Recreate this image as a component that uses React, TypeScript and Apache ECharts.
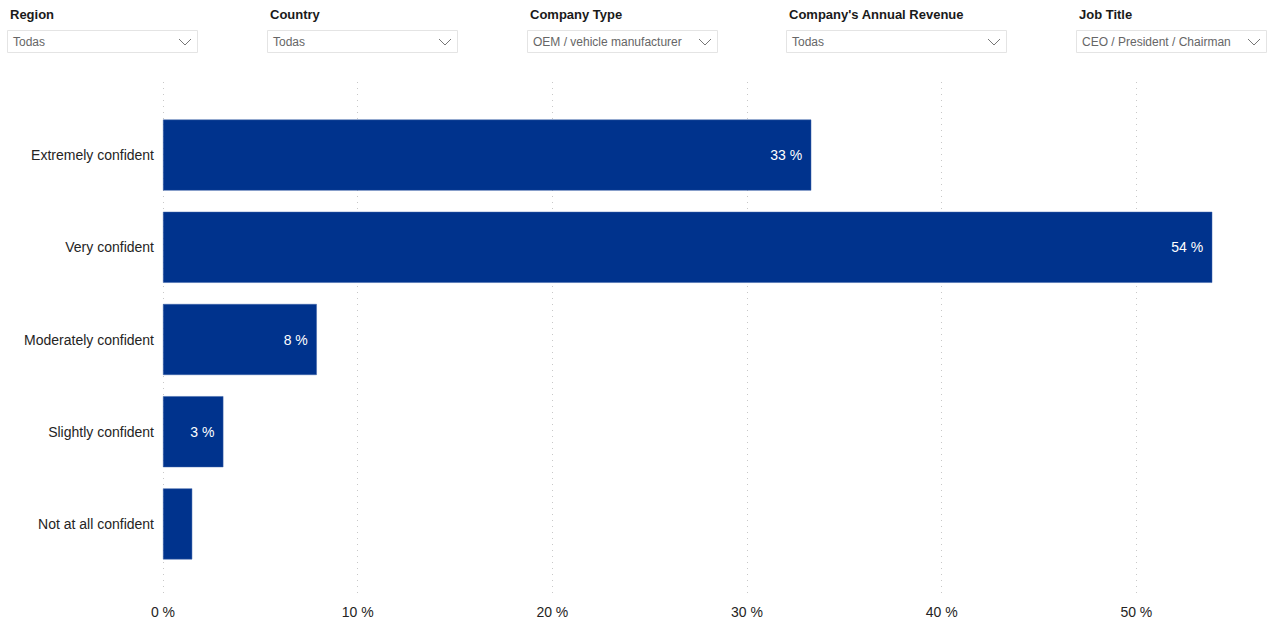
import React, { useEffect, useRef } from "react";
import * as echarts from "echarts";

const categories = [
  "Extremely confident",
  "Very confident",
  "Moderately confident",
  "Slightly confident",
  "Not at all confident",
];
const values = [33.3, 53.9, 7.9, 3.1, 1.5];
const showValueLabel = [true, true, true, true, false];

const filterTitles = ["Region", "Country", "Company Type", "Company's Annual Revenue", "Job Title"];
const filterValues = ["Todas", "Todas", "OEM / vehicle manufacturer", "Todas", "CEO / President / Chairman"];
const filterX = [7, 267, 527, 786, 1076];
const filterW = [190, 190, 190, 220, 190];

const FONT = "'Liberation Sans', Arial, sans-serif";

export default function App() {
  const ref = useRef<HTMLDivElement>(null);

  useEffect(() => {
    if (!ref.current) return;
    const chart = echarts.init(ref.current, undefined, { renderer: "svg" });

    const graphics: any[] = [];
    filterTitles.forEach((t, i) => {
      const x = filterX[i];
      const w = filterW[i];
      graphics.push({
        type: "text",
        left: x + 3,
        top: 8,
        style: { text: t, font: `bold 13px ${FONT}`, fill: "#1a1a1a" },
      });
      graphics.push({
        type: "rect",
        shape: { x: x + 0.5, y: 30.5, width: w, height: 22 },
        style: { fill: "#fff", stroke: "#e4e4e4", lineWidth: 1 },
      });
      graphics.push({
        type: "text",
        x: x + 6,
        y: 42,
        style: {
          text: filterValues[i],
          font: `12px ${FONT}`,
          fill: "#666666",
          verticalAlign: "middle",
        },
      });
      graphics.push({
        type: "polyline",
        shape: {
          points: [
            [x + w - 18, 39],
            [x + w - 12, 45],
            [x + w - 6, 39],
          ],
        },
        style: { stroke: "#777", lineWidth: 1, fill: "none" },
      });
    });

    const gridLeft = 163;
    const gridWidth = 1168;

    chart.setOption({
      animation: false,
      textStyle: { fontFamily: FONT },
      graphic: graphics,
      grid: [
        { left: gridLeft, width: gridWidth, top: 109, height: 461, outerBoundsMode: "none", containLabel: false },
        { left: gridLeft, width: gridWidth, top: 82, height: 516, outerBoundsMode: "none", containLabel: false },
      ],
      xAxis: [
        {
          type: "value",
          gridIndex: 0,
          min: 0,
          max: 60,
          interval: 10,
          axisLabel: { show: false },
          axisLine: { show: false },
          axisTick: { show: false },
          splitLine: { show: false },
        },
        {
          type: "value",
          gridIndex: 1,
          min: 0,
          max: 60,
          interval: 10,
          axisLabel: {
            show: true,
            showMaxLabel: false,
            formatter: (v: number) => `${v} %`,
            fontSize: 14,
            color: "#252423",
            margin: 7,
            fontFamily: FONT,
          },
          axisLine: { show: false },
          axisTick: { show: false },
          splitLine: {
            show: true,
            lineStyle: { color: "#c8c8c8", width: 1, type: [1, 5] },
          },
        },
      ],
      yAxis: [
        {
          type: "category",
          gridIndex: 0,
          data: categories,
          inverse: true,
          axisLine: { show: false },
          axisTick: { show: false },
          axisLabel: { fontSize: 14, color: "#252423", margin: 9, fontFamily: FONT },
        },
        {
          type: "value",
          gridIndex: 1,
          show: false,
        },
      ],
      series: [
        {
          type: "bar",
          xAxisIndex: 0,
          yAxisIndex: 0,
          barCategoryGap: "23%",
          data: values.map((v, i) => ({
            value: v,
            label: { show: showValueLabel[i] },
          })),
          itemStyle: { color: "#00338D", borderColor: "#3d63a8", borderWidth: 0.5 },
          label: {
            show: true,
            position: "insideRight",
            distance: 9,
            color: "#ffffff",
            fontSize: 14,
            fontFamily: FONT,
            formatter: (p: any) => `${Math.round(p.value)} %`,
          },
        },
      ],
    });

    return () => chart.dispose();
  }, []);

  return (
    <div
      ref={ref}
      style={{ position: "absolute", left: 0, top: 0, width: 1271, height: 625, background: "#fff" }}
    />
  );
}
